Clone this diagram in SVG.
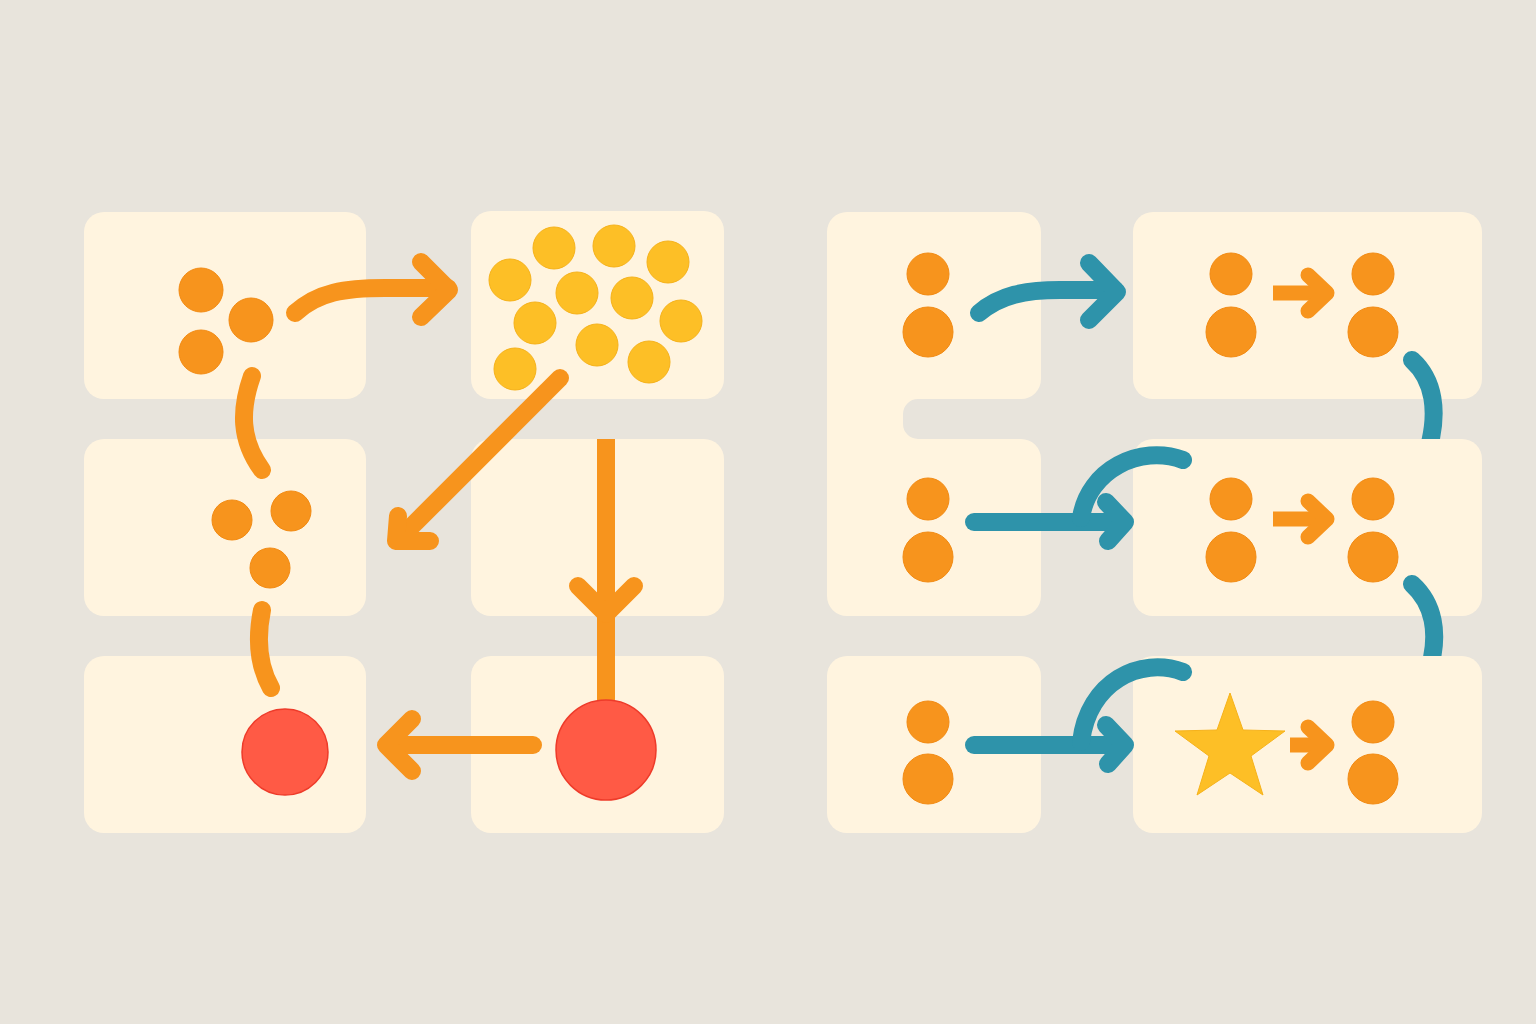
<svg xmlns="http://www.w3.org/2000/svg" width="1536" height="1024" viewBox="0 0 1536 1024">
<style>
.box{fill:#FFF4DF}
.or{fill:#F7941D;stroke:#F28A12;stroke-width:1}
.ye{fill:#FDBF26;stroke:#F6B21A;stroke-width:1}
.rd{fill:#FF5A45;stroke:#EE3B2A;stroke-width:1.5}
.oc{fill:none;stroke:#F7941D;stroke-width:18;stroke-linecap:round;stroke-linejoin:round}
.tc{fill:none;stroke:#2E93AA;stroke-width:18;stroke-linecap:round;stroke-linejoin:round}
.sm{fill:none;stroke:#F7941D;stroke-width:15;stroke-linejoin:round}
</style>
<defs>
<clipPath id="c1"><rect x="1380" y="340" width="100" height="99"/></clipPath>
<clipPath id="c2"><rect x="1380" y="560" width="100" height="96"/></clipPath>
</defs>
<rect width="1536" height="1024" fill="#E8E4DC"/>
<g id="left-panel">
<g id="n-tl"><rect class="box" x="84" y="212" width="282" height="187" rx="20"/>
<circle class="or" cx="201" cy="290" r="22"/><circle class="or" cx="251" cy="320" r="22"/><circle class="or" cx="201" cy="352" r="22"/></g>
<g id="n-tr"><rect class="box" x="471" y="211" width="253" height="188" rx="20"/>
<circle class="ye" cx="554" cy="248" r="21"/><circle class="ye" cx="614" cy="246" r="21"/><circle class="ye" cx="668" cy="262" r="21"/>
<circle class="ye" cx="510" cy="280" r="21"/><circle class="ye" cx="577" cy="293" r="21"/><circle class="ye" cx="632" cy="298" r="21"/>
<circle class="ye" cx="681" cy="321" r="21"/><circle class="ye" cx="535" cy="323" r="21"/><circle class="ye" cx="597" cy="345" r="21"/>
<circle class="ye" cx="649" cy="362" r="21"/><circle class="ye" cx="515" cy="369" r="21"/></g>
<g id="n-ml"><rect class="box" x="84" y="439" width="282" height="177" rx="20"/>
<circle class="or" cx="232" cy="520" r="20"/><circle class="or" cx="291" cy="511" r="20"/><circle class="or" cx="270" cy="568" r="20"/></g>
<g id="n-mr"><rect class="box" x="471" y="439" width="253" height="177" rx="20"/></g>
<g id="n-bl"><rect class="box" x="84" y="656" width="282" height="177" rx="20"/>
<circle class="rd" cx="285" cy="752" r="43"/></g>
<g id="n-br"><rect class="box" x="471" y="656" width="253" height="177" rx="20"/></g>
</g>
<g id="right-panel">
<g id="n-r-left"><path class="box" d="M847,212 H1021 A20,20 0 0 1 1041,232 V379 A20,20 0 0 1 1021,399 H918 A15,15 0 0 0 903,414 V424 A15,15 0 0 0 918,439 H1021 A20,20 0 0 1 1041,459 V596 A20,20 0 0 1 1021,616 H847 A20,20 0 0 1 827,596 V232 A20,20 0 0 1 847,212 Z"/>
<circle class="or" cx="928" cy="274" r="21"/><circle class="or" cx="928" cy="332" r="25"/>
<circle class="or" cx="928" cy="499" r="21"/><circle class="or" cx="928" cy="557" r="25"/></g>
<g id="n-r-bl"><rect class="box" x="827" y="656" width="214" height="177" rx="20"/>
<circle class="or" cx="928" cy="722" r="21"/><circle class="or" cx="928" cy="779" r="25"/></g>
<g id="n-r-1"><rect class="box" x="1133" y="212" width="349" height="187" rx="20"/>
<circle class="or" cx="1231" cy="274" r="21"/><circle class="or" cx="1231" cy="332" r="25"/>
<circle class="or" cx="1373" cy="274" r="21"/><circle class="or" cx="1373" cy="332" r="25"/>
<path class="sm" d="M1273,293 H1322"/><path class="sm" d="M1308,275 L1327,293 L1308,311" stroke-linecap="round"/></g>
<g id="n-r-2"><rect class="box" x="1133" y="439" width="349" height="177" rx="20"/>
<circle class="or" cx="1231" cy="499" r="21"/><circle class="or" cx="1231" cy="557" r="25"/>
<circle class="or" cx="1373" cy="499" r="21"/><circle class="or" cx="1373" cy="557" r="25"/>
<path class="sm" d="M1273,519 H1322"/><path class="sm" d="M1308,501 L1327,519 L1308,537" stroke-linecap="round"/></g>
<g id="n-r-3"><rect class="box" x="1133" y="656" width="349" height="177" rx="20"/>
<polygon points="1230,693 1243,730 1285,731 1251,756 1263,795 1230,773 1197,795 1209,756 1175,731 1217,730" fill="#FDBF26" stroke="#F6B21A" stroke-width="1"/>
<circle class="or" cx="1373" cy="722" r="21"/><circle class="or" cx="1373" cy="779" r="25"/>
<path class="sm" d="M1290,745 H1322"/><path class="sm" d="M1308,727 L1327,745 L1308,763" stroke-linecap="round"/></g>
</g>
<g id="connectors">
<path class="oc" d="M295,313 C318,292 345,288 385,288 H448"/>
<path class="oc" d="M421,262 L449,290 L421,317"/>
<path class="oc" d="M252,376 C240,410 240,440 262,470"/>
<path class="oc" d="M262,610 C256,640 258,665 271,688"/>
<path class="oc" d="M560,378 L400,538"/>
<path class="oc" d="M398,516 L396,541 L430,541"/>
<path fill="none" stroke="#F7941D" stroke-width="18" d="M606,439 V705"/>
<path class="oc" d="M578,586 L606,614 L634,586"/>
<circle class="rd" cx="606" cy="750" r="50"/>
<path class="oc" d="M533,745 H388"/>
<path class="oc" d="M412,719 L386,745 L412,771"/>
<path class="tc" d="M979,313 C1000,295 1025,290 1060,290 H1115"/>
<path class="tc" d="M1089,263 L1117,292 L1089,320"/>
<path class="tc" clip-path="url(#c1)" d="M1412,360 C1432,378 1442,410 1425,460"/>
<path class="tc" clip-path="url(#c2)" d="M1412,584 C1432,602 1442,632 1427,676"/>
<path class="tc" d="M974,522 H1122"/>
<path class="tc" d="M1106,502 L1125,522 L1108,541"/>
<path class="tc" d="M1183,460 C1140,444 1088,470 1081,518"/>
<path class="tc" d="M974,745 H1122"/>
<path class="tc" d="M1106,725 L1125,745 L1108,764"/>
<path class="tc" d="M1183,672 C1140,656 1088,682 1081,742"/>
</g>
</svg>
